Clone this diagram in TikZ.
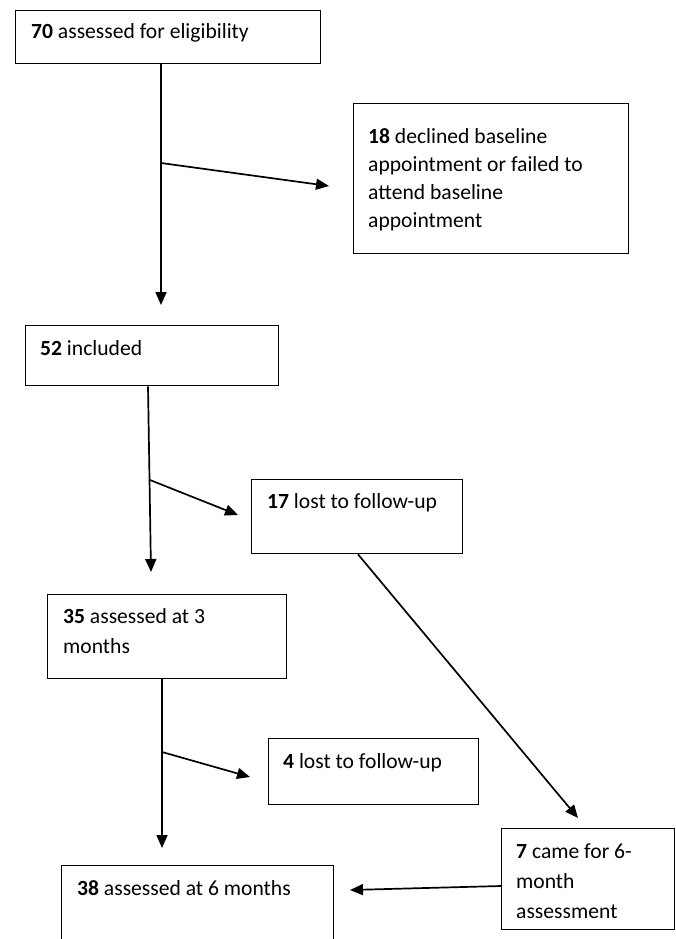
\documentclass[tikz,border=0pt]{standalone}
\usepackage{fontspec}
\setmainfont{Carlito}
\usetikzlibrary{arrows.meta,calc}
\begin{document}
\begin{tikzpicture}[x=1pt,y=-1pt,
  box/.style={draw, line width=1.3pt, rectangle, inner sep=0pt, anchor=north west},
  txt/.style={anchor=base west, inner sep=0pt, align=left, font=\fontsize{21.6}{#1}\selectfont},
  txt/.default=30,
  arr/.style={line width=1.7pt, -{Triangle[length=13pt,width=11pt]}}]
\useasboundingbox (0,0) rectangle (676,939);

% boxes
\node[box, minimum width=305pt, minimum height=53pt] (b1) at (15,10) {};
\node[box, minimum width=275pt, minimum height=150pt] (b2) at (353,103) {};
\node[box, minimum width=253pt, minimum height=60pt] (b3) at (25,325) {};
\node[box, minimum width=211pt, minimum height=74pt] (b4) at (251,479) {};
\node[box, minimum width=239pt, minimum height=84pt] (b5) at (47,594) {};
\node[box, minimum width=210pt, minimum height=66pt] (b6) at (268,738) {};
\node[box, minimum width=272pt, minimum height=110pt] (b7) at (61,865) {};
\node[box, minimum width=173pt, minimum height=101pt] (b8) at (501,828) {};

% texts (base anchor = baseline of the last line)
\node[txt] (t1) at (31,39) {\textbf{70} assessed for eligibility};
\node[txt=28] (t2) at (368,227) {\textbf{18} declined baseline\\appointment or failed to\\attend baseline\\appointment};
\node[txt] (t3) at (40,355) {\textbf{52} included};
\node[txt] (t4) at (267,508) {\textbf{17} lost to follow-up};
\node[txt] (t5) at (63,653) {\textbf{35} assessed at 3\\months};
\node[txt] (t6) at (283,768) {\textbf{4} lost to follow-up};
\node[txt] (t7) at (77,895) {\textbf{38} assessed at 6 months};
\node[txt] (t8) at (516,918) {\textbf{7} came for 6-\\month\\assessment};

% connector points
\coordinate (p1) at (161,305);
\coordinate (j1) at (161,163);
\coordinate (e1) at (329,186);
\coordinate (p2) at (151,572);
\coordinate (j2) at (150,480);
\coordinate (e2) at (238,515);
\coordinate (e3) at (578,818);
\coordinate (p3) at (162,848);
\coordinate (j3) at (162,752);
\coordinate (e4) at (250,777);
\coordinate (p4) at (350,890);

% connectors
\draw[arr] ($(b1.south west)+(146,0)$) -- (p1);
\draw[arr] (j1) -- (e1);
\draw[arr] ($(b3.south west)+(123,0)$) -- (p2);
\draw[arr] (j2) -- (e2);
\draw[arr] ($(b4.south west)+(107,0)$) -- (e3);
\draw[arr] ($(b5.south west)+(115,0)$) -- (p3);
\draw[arr] (j3) -- (e4);
\draw[arr] ($(b8.north west)+(0,58)$) -- (p4);
\end{tikzpicture}
\end{document}
